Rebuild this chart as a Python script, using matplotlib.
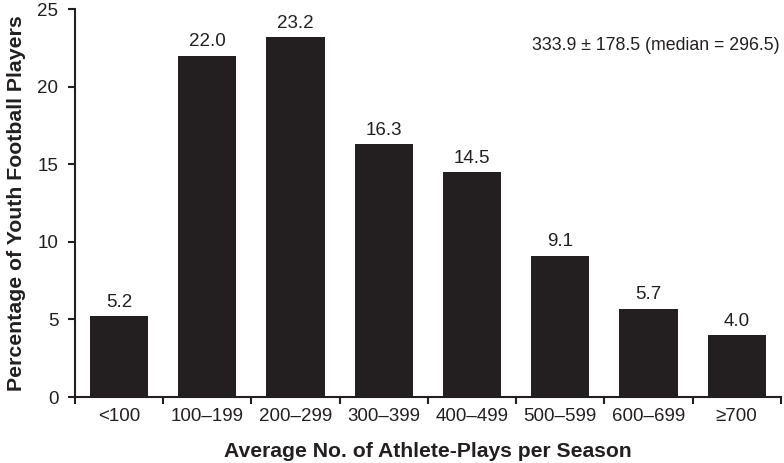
import numpy as np
import matplotlib.pyplot as plt

plt.rcParams['font.family'] = ['Liberation Sans', 'DejaVu Sans']

categories = ['<100', '100–199', '200–299', '300–399', '400–499', '500–599', '600–699', '≥700']
percentages = [5.2, 22.0, 23.2, 16.3, 14.5, 9.1, 5.7, 4.0]
summary = '333.9 ± 178.5 (median = 296.5)'

fig = plt.figure(figsize=(7.84, 4.63), dpi=100)
ax = fig.add_axes([0.0957, 0.1425, 0.9003, 0.838])

x = np.arange(len(categories)) + 0.5
ax.bar(x, percentages, width=0.66, color='#231f20')

for xi, v in zip(x, percentages):
    ax.text(xi, v + 0.35, f'{v:.1f}', ha='center', va='bottom', fontsize=13.5, color='#231f20')

ax.set_xlim(0, len(categories))
ax.set_ylim(0, 25)
ax.set_yticks([0, 5, 10, 15, 20, 25])
ax.set_xticks(x)
ax.set_xticklabels(categories)
ax.set_xticks(np.arange(len(categories) + 1), minor=True)
ax.tick_params(axis='x', which='major', length=0, pad=8, labelsize=13.5, labelcolor='#231f20')
ax.tick_params(axis='x', which='minor', length=5, width=1.5, direction='out', color='#231f20')
ax.tick_params(axis='y', length=5, width=1.5, labelsize=13.5, labelcolor='#231f20', color='#231f20', pad=7)

for s in ['top', 'right']:
    ax.spines[s].set_visible(False)
for s in ['left', 'bottom']:
    ax.spines[s].set_linewidth(1.5)
    ax.spines[s].set_color('#231f20')

ax.set_xlabel('Average No. of Athlete-Plays per Season', fontsize=15.2, fontweight='bold', labelpad=12, color='#231f20')
ax.set_ylabel('Percentage of Youth Football Players', fontsize=15.3, fontweight='bold', labelpad=8, color='#231f20')

ax.text(0.998, 0.905, summary, transform=ax.transAxes, ha='right', va='center', fontsize=12.8, color='#231f20')

fig.savefig('out.png', dpi=100)
